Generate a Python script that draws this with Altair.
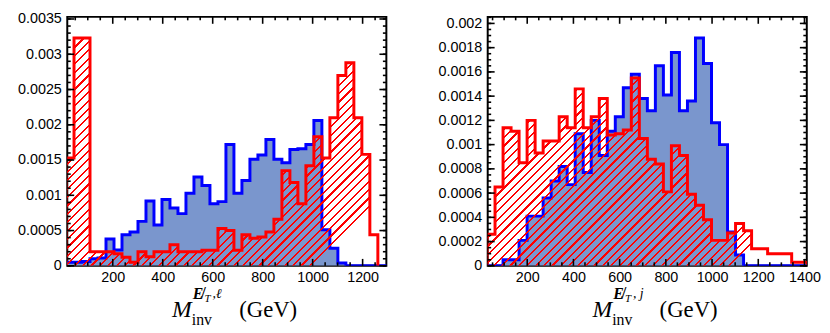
import altair as alt
import pandas as pd

# ---------------- data ----------------
# left panel: M_inv(MET, lepton); bins start at L_START with width L_WIDTH (GeV)
L_START, L_WIDTH = 13.0, 32.0
L_BLUE = [0.00005, 0.00005, 0.00006, 0.00010, 0.00011, 0.00038, 0.000225, 0.00044, 0.00048, 0.00063,
          0.00092, 0.00058, 0.00094, 0.00082, 0.00074, 0.00103, 0.00126, 0.00114, 0.00088, 0.00091,
          0.00172, 0.00103, 0.00121, 0.00151, 0.00157, 0.00179, 0.00151, 0.00146, 0.00165, 0.00166,
          0.00172, 0.00206, 0.00051, 0.00025, 0.00004, 0.0, 0.0, 0.0, 0.0, 0.0, 0.0]
L_RED = [0.00153, 0.00323, 0.00323, 0.00020, 0.00020, 0.00020, 0.00017, 0.00012, 0.00005, 0.00020,
         0.00013, 0.00020, 0.00020, 0.00030, 0.00020, 0.00020, 0.00020, 0.00022, 0.00022, 0.00053,
         0.00050, 0.00022, 0.00044, 0.00039, 0.00041, 0.00048, 0.00066, 0.00135, 0.00118, 0.00088,
         0.00142, 0.00183, 0.00153, 0.00210, 0.00270, 0.00288, 0.00210, 0.00158, 0.00044]

# right panel: M_inv(MET, jet)
R_START, R_WIDTH = 26.0, 34.7
R_BLUE = [0.0, 0.0, 0.00005, 0.00005, 0.00021, 0.00041, 0.00041, 0.00056, 0.00070, 0.00082,
          0.00067, 0.00109, 0.00077, 0.00120, 0.00091, 0.00111, 0.00123, 0.00147, 0.00158, 0.00138,
          0.00128, 0.00165, 0.00141, 0.00176, 0.00128, 0.00136, 0.00188, 0.00167, 0.00118, 0.00100,
          0.00028, 0.00009, 0.0, 0.0, 0.0, 0.0, 0.0, 0.0, 0.0, 0.0]
R_RED = [0.00026, 0.00065, 0.00114, 0.00111, 0.00085, 0.00120, 0.00093, 0.00103, 0.00103, 0.00123,
         0.00114, 0.00146, 0.00114, 0.00123, 0.00138, 0.00108, 0.00109, 0.00112, 0.00155, 0.00105,
         0.00088, 0.00084, 0.00061, 0.00099, 0.00091, 0.00059, 0.00050, 0.00038, 0.00021, 0.00021,
         0.00027, 0.00035, 0.00029, 0.00014, 0.00014, 0.00010, 0.00010, 0.00010, 0.00003, 0.00003]

L_XDOM, L_YDOM = [18, 1295], [0, 0.00353]
R_XDOM, R_YDOM = [29, 1410], [0, 0.002054]
L_XTICKS = [200, 400, 600, 800, 1000, 1200]
L_YTICKS = [0, 0.0005, 0.001, 0.0015, 0.002, 0.0025, 0.003, 0.0035]
R_XTICKS = [200, 400, 600, 800, 1000, 1200, 1400]
R_YTICKS = [0, 0.0002, 0.0004, 0.0006, 0.0008, 0.001, 0.0012, 0.0014, 0.0016, 0.0018, 0.002]
L_XMINOR = [v for v in range(50, 1300, 50) if v % 200 and 18 <= v <= 1295]
R_XMINOR = [v for v in range(50, 1410, 50) if v % 200]
L_YMINOR = [i / 10000 for i in range(0, 36)]
R_YMINOR = [i / 20000 for i in range(0, 42)]

# ---------------- style ----------------
W, H = 323, 252
BLUE_FILL = "#7a96cd"
BLUE = "#0000ff"
RED = "#ff0000"
CLEAR = "rgba(255,255,255,0)"
SANS = "Liberation Sans"
SERIF = "Liberation Serif"


def step_line(start, width, vals):
    edges = [start + width * i for i in range(len(vals) + 1)]
    xs = [edges[0]] + edges[:-1] + [edges[-1], edges[-1]]
    ys = [0.0] + list(vals) + [vals[-1], 0.0]
    return pd.DataFrame({"x": xs, "y": ys, "o": list(range(len(xs)))})


def step_area(start, width, vals):
    edges = [start + width * i for i in range(len(vals) + 1)]
    xs = edges[:-1] + [edges[-1]]
    ys = list(vals) + [vals[-1]]
    return pd.DataFrame({"x": xs, "y": ys})


def hatch(start, width, vals, xdom, ydom, period=8.5, frac=0.26):
    sx = W / (xdom[1] - xdom[0])
    sy = H / (ydom[1] - ydom[0])
    bw = width * len(vals) * sx
    bh = max(vals) * sy
    b = bh / bw
    dt = period / (bw * (1 + b * b))
    stops = []
    t = 0.0
    while t < 1.0:
        t1 = min(t + frac * dt, 1.0)
        t2 = min(t + dt, 1.0)
        stops += [alt.GradientStop(color=RED, offset=t),
                  alt.GradientStop(color=RED, offset=t1),
                  alt.GradientStop(color=CLEAR, offset=t1),
                  alt.GradientStop(color=CLEAR, offset=t2)]
        t += dt
    return alt.LinearGradient(gradient="linear", stops=stops, x1=0, y1=0, x2=1, y2=b)


def panel(start, width, blue, red, xdom, ydom, xticks, yticks, xminor, yminor, yext, sup2):
    X = alt.X("x:Q", scale=alt.Scale(domain=xdom, nice=False, zero=False),
              axis=alt.Axis(values=xticks, ticks=False, domain=False, grid=False, title=None,
                            labelFont=SANS, labelFontSize=14.5, labelColor="black",
                            labelPadding=5, format="d"))
    Y = alt.Y("y:Q", stack=None, scale=alt.Scale(domain=ydom, nice=False, zero=False),
              axis=alt.Axis(values=yticks, ticks=False, domain=False, grid=False, title=None,
                            labelFont=SANS, labelFontSize=14.5, labelColor="black",
                            labelPadding=6, format="~g", minExtent=yext, maxExtent=yext))

    blue_area = alt.Chart(step_area(start, width, blue)).mark_area(
        interpolate="step-after", color=BLUE_FILL, clip=True).encode(x=X, y=Y)
    blue_line = alt.Chart(step_line(start, width, blue)).mark_line(
        interpolate="step-after", color=BLUE, strokeWidth=3, clip=True).encode(x=X, y=Y, order="o:Q")
    red_area = alt.Chart(step_area(start, width, red)).mark_area(
        interpolate="step-after", fill=hatch(start, width, red, xdom, ydom), clip=True
    ).encode(x=X, y=Y)
    red_line = alt.Chart(step_line(start, width, red)).mark_line(
        interpolate="step-after", color=RED, strokeWidth=3, clip=True).encode(x=X, y=Y, order="o:Q")

    tick_layers = []
    for vals, ln in ((xticks, 7), (xminor, 3.5)):
        df = pd.DataFrame({"x": vals})
        tick_layers.append(alt.Chart(df).mark_rule(color="black", strokeWidth=1.6).encode(
            x=X, y=alt.value(0), y2=alt.value(ln)))
        tick_layers.append(alt.Chart(df).mark_rule(color="black", strokeWidth=1.6).encode(
            x=X, y=alt.value(H), y2=alt.value(H - ln)))
    for vals, ln in ((yticks, 7), (yminor, 3.5)):
        df = pd.DataFrame({"y": vals})
        tick_layers.append(alt.Chart(df).mark_rule(color="black", strokeWidth=1.6).encode(
            y=Y, x=alt.value(0), x2=alt.value(ln)))
        tick_layers.append(alt.Chart(df).mark_rule(color="black", strokeWidth=1.6).encode(
            y=Y, x=alt.value(W), x2=alt.value(W - ln)))

    one = pd.DataFrame({"a": [0]})
    x0 = 106

    def txt(s, x, y, size, style="normal", weight="normal"):
        return alt.Chart(one).mark_text(text=s, font=SERIF, fontSize=size, fontStyle=style,
                                        fontWeight=weight, align="left", baseline="alphabetic",
                                        color="black").encode(x=alt.value(x), y=alt.value(y))
    title = [
        txt("M", x0, 304, 24, "italic"),
        txt("E\u0338", x0 + 21, 286, 16, "italic", "bold"),
        txt("T", x0 + 33, 289, 11, "italic"),
        txt(sup2, x0 + 41, 285, 14, "italic"),
        txt("inv", x0 + 20, 312, 16),
        txt("(GeV)", x0 + 68, 304, 23),
    ]
    return alt.layer(blue_area, blue_line, red_area, red_line, *tick_layers, *title).properties(
        width=W, height=H)


left = panel(L_START, L_WIDTH, L_BLUE, L_RED, L_XDOM, L_YDOM, L_XTICKS, L_YTICKS,
             L_XMINOR, L_YMINOR, 58.7, ",\u2113")
right = panel(R_START, R_WIDTH, R_BLUE, R_RED, R_XDOM, R_YDOM, R_XTICKS, R_YTICKS,
              R_XMINOR, R_YMINOR, 55, ", j")

chart = alt.hconcat(left, right, spacing=44.6).properties(
    padding=0, background="white").configure_view(stroke="black", strokeWidth=2)

chart.save("out.html", embed_options={"renderer": "svg", "actions": False})
